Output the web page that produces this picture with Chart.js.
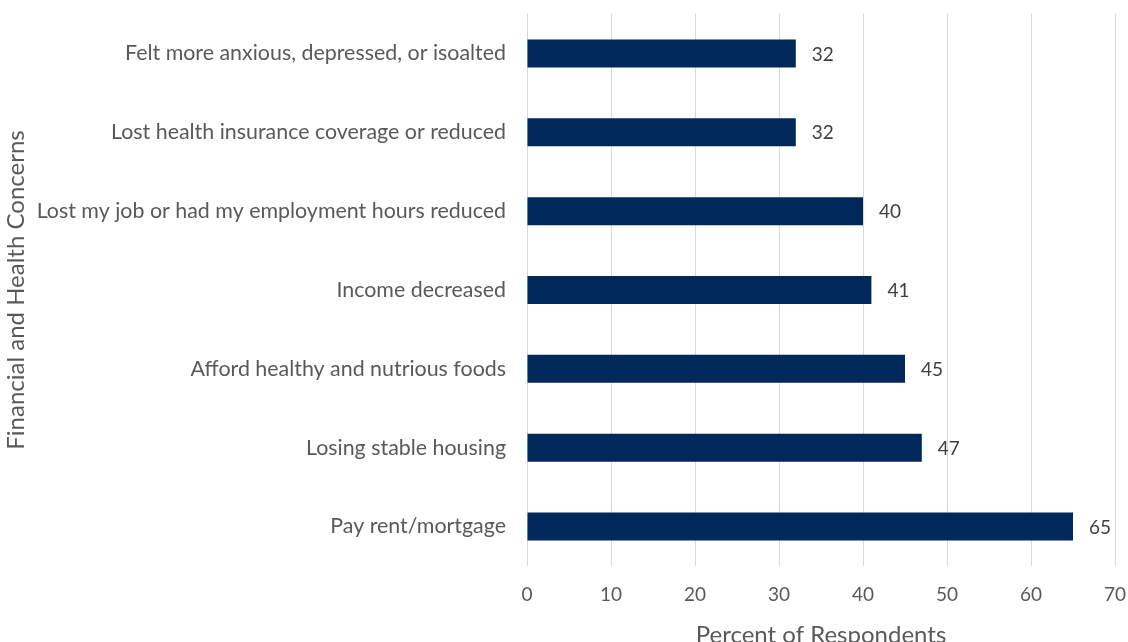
<!DOCTYPE html>
<html>
<head>
<meta charset="utf-8">
<script src="https://cdn.jsdelivr.net/npm/chart.js@4.4.1/dist/chart.umd.min.js"></script>
<style>
  html, body { margin: 0; padding: 0; overflow: hidden; background: #fff; }
  #wrap { width: 1128px; height: 656px; }
</style>
</head>
<body>
<div id="wrap"><canvas id="chart"></canvas></div>
<script>
const concerns = [
  "Felt more anxious, depressed, or isoalted",
  "Lost health insurance coverage or reduced",
  "Lost my job or had my employment hours reduced",
  "Income decreased",
  "Afford healthy and nutrious foods",
  "Losing stable housing",
  "Pay rent/mortgage",
];
const percents = [32, 32, 40, 41, 45, 47, 65];
const xTitle = "Percent of Respondents";
const yTitle = "Financial and Health Concerns";

const FONT = "Lato, 'Open Sans', sans-serif";
const GREY = "#595959";

// writes the value just past the end of each bar
const barValues = {
  id: "barValues",
  afterDatasetsDraw(chart) {
    const ctx = chart.ctx;
    const meta = chart.getDatasetMeta(0);
    ctx.save();
    ctx.font = "19px " + FONT;
    ctx.fillStyle = "#404040";
    ctx.textAlign = "left";
    ctx.textBaseline = "middle";
    meta.data.forEach((bar, i) => {
      ctx.fillText(String(percents[i]), bar.x + 16, bar.y + 1);
    });
    ctx.restore();
  },
};

new Chart(document.getElementById("chart"), {
  type: "bar",
  data: {
    labels: concerns,
    datasets: [
      {
        data: percents,
        backgroundColor: "#00285A",
        categoryPercentage: 1,
        barPercentage: 0.355,
      },
    ],
  },
  options: {
    indexAxis: "y",
    responsive: true,
    maintainAspectRatio: false,
    animation: false,
    layout: { padding: { top: 14, right: 13, left: 0, bottom: 0 } },
    plugins: {
      legend: { display: false },
      tooltip: { enabled: false },
    },
    scales: {
      x: {
        min: 0,
        max: 70,
        ticks: {
          stepSize: 10,
          color: GREY,
          padding: 17,
          font: { family: FONT, size: 19 },
        },
        grid: { color: "#d9d9d9", drawTicks: false },
        border: { display: false },
        title: {
          display: true,
          text: xTitle,
          color: GREY,
          font: { family: FONT, size: 24 },
          padding: { top: 0, bottom: 6 },
        },
        afterFit(scale) {
          scale.height = 90;
          scale.paddingLeft = 0;
          scale.paddingRight = 0;
        },
      },
      y: {
        ticks: {
          color: GREY,
          padding: 21,
          font: { family: FONT, size: 21.4 },
        },
        grid: { display: false, drawTicks: false },
        border: { display: false },
        title: {
          display: true,
          text: yTitle,
          color: GREY,
          font: { family: FONT, size: 24 },
          padding: { top: 2, bottom: 0 },
        },
        afterFit(scale) {
          scale.width = 527;
          scale.paddingTop = 0;
          scale.paddingBottom = 0;
        },
      },
    },
  },
  plugins: [barValues],
});
</script>
</body>
</html>
